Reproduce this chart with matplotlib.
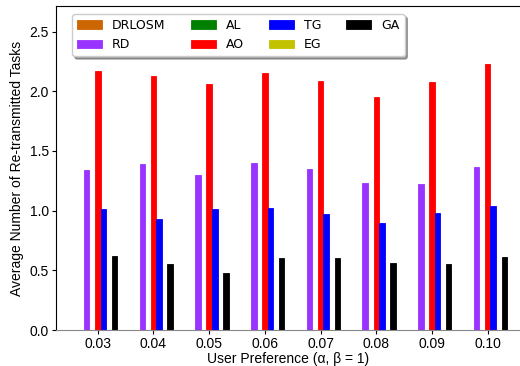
import numpy as np
import matplotlib
matplotlib.use('Agg')
import matplotlib.pyplot as plt

prefs = ['0.03', '0.04', '0.05', '0.06', '0.07', '0.08', '0.09', '0.10']

series = ['DRLOSM', 'RD', 'AL', 'AO', 'TG', 'EG', 'GA']
drlosm = [0, 0, 0, 0, 0, 0, 0, 0]
rd = [1.34, 1.39, 1.30, 1.40, 1.35, 1.23, 1.22, 1.37]
al = [0, 0, 0, 0, 0, 0, 0, 0]
ao = [2.17, 2.13, 2.06, 2.15, 2.09, 1.95, 2.08, 2.23]
tg = [1.01, 0.93, 1.01, 1.02, 0.97, 0.90, 0.98, 1.04]
eg = [0, 0, 0, 0, 0, 0, 0, 0]
ga = [0.62, 0.55, 0.48, 0.60, 0.60, 0.56, 0.55, 0.61]

values = [drlosm, rd, al, ao, tg, eg, ga]
colors = ['#cc6600', '#9933ff', 'green', 'red', 'blue', '#c2c200', 'black']

plt.rcParams['font.family'] = ['Liberation Sans', 'DejaVu Sans']

fig = plt.figure(figsize=(5.2, 3.66), dpi=100)
ax = fig.add_axes([56 / 520, 1 - 330 / 366, 464 / 520, 324 / 366])

x = np.arange(len(prefs))
width = 0.1
for i, (name, vals, col) in enumerate(zip(series, values, colors)):
    offset = (i - 3) * width
    ax.bar(x + offset, vals, width, label=name, color=col,
           edgecolor=col, linewidth=0.6)

ax.set_xlim(-0.75, 7.58)
ax.set_ylim(0, 2.715)
ax.set_xticks(x)
ax.set_xticklabels(prefs)
ax.set_yticks([0.0, 0.5, 1.0, 1.5, 2.0, 2.5])
ax.tick_params(labelsize=10, length=3, pad=2)
ax.spines['right'].set_visible(False)
ax.spines['bottom'].set_color('#888888')

ax.set_xlabel('User Preference (\u03b1, \u03b2 = 1)', fontsize=10, labelpad=1)
ax.set_ylabel('Average Number of Re-transmitted Tasks', fontsize=10, labelpad=4)

leg = ax.legend(ncol=4, loc='upper left',
                bbox_to_anchor=(72 / 520, 1 - 14 / 366), bbox_transform=fig.transFigure,
                shadow=True, fancybox=True, prop={'family': 'DejaVu Sans', 'size': 9},
                handlelength=2.0, columnspacing=2.0, handletextpad=0.8,
                borderaxespad=0.0)

fig.savefig('out.png', dpi=100)
